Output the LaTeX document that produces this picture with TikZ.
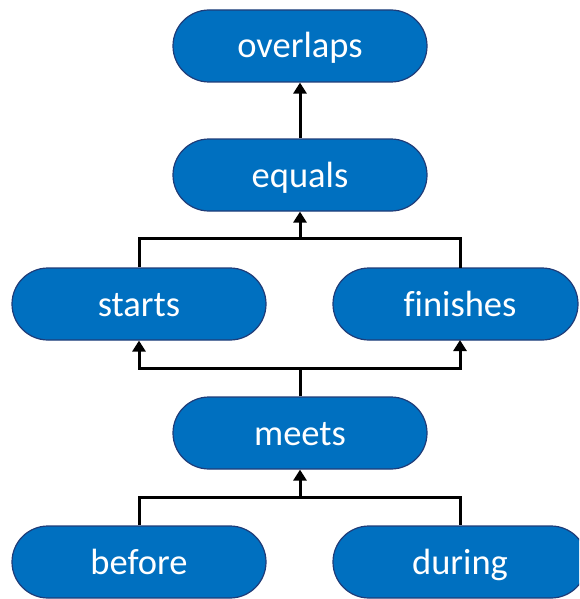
\documentclass[tikz,border=0pt]{standalone}
\usepackage{fontspec}
\setmainfont[Ligatures=NoCommon]{Carlito}
\usetikzlibrary{arrows.meta}
\definecolor{pillblue}{HTML}{0070C0}
\definecolor{pillborder}{HTML}{1F3C78}
\tikzset{
  pill/.style={draw=pillborder, line width=1.2pt, fill=pillblue,
    rounded corners=36pt, minimum width=254pt, minimum height=72pt,
    inner sep=0pt, text height=24pt, text depth=0pt,
    text=white, font=\fontsize{36.5}{40}\selectfont},
  link/.style={line width=3pt, black},
  arr/.style={link, -{Triangle[length=11pt,width=13pt]}}
}
\begin{document}
\begin{tikzpicture}[x=1pt, y=-1pt]
  \useasboundingbox (0,0) rectangle (579,599);
  \clip (0,0) rectangle (579,599);

  % the relation nodes
  \node[pill] (overlaps) at (300,46)  {overlaps};
  \node[pill] (equals)   at (300,175) {equals};
  \node[pill] (starts)   at (139,304) {starts};
  \node[pill, minimum width=245pt] (finishes) at (455.5,304) {\hspace*{9pt}finishes};
  \node[pill] (meets)    at (300,433) {meets};
  \node[pill] (before)   at (139,562) {before};
  \node[pill] (during)   at (460,562) {during};

  % junction points of the connectors
  \coordinate (j1) at (300,238);
  \coordinate (j2) at (300,368);
  \coordinate (j3) at (300,497);
  \coordinate (fintop) at (460,268);
  \coordinate (finbot) at (460,340);

  % equals -> overlaps
  \draw[arr] (equals.north) -- (overlaps.south);

  % starts, finishes -> equals
  \draw[link] (starts.north) |- (j1) -| (fintop);
  \draw[arr] (j1) -- (equals.south);

  % meets -> starts, finishes
  \draw[link] (meets.north) -- (j2);
  \draw[arr] (j2) -| (starts.south);
  \draw[arr] (j2) -| (finbot);

  % before, during -> meets
  \draw[link] (before.north) |- (j3) -| (during.north);
  \draw[arr] (j3) -- (meets.south);
\end{tikzpicture}
\end{document}
